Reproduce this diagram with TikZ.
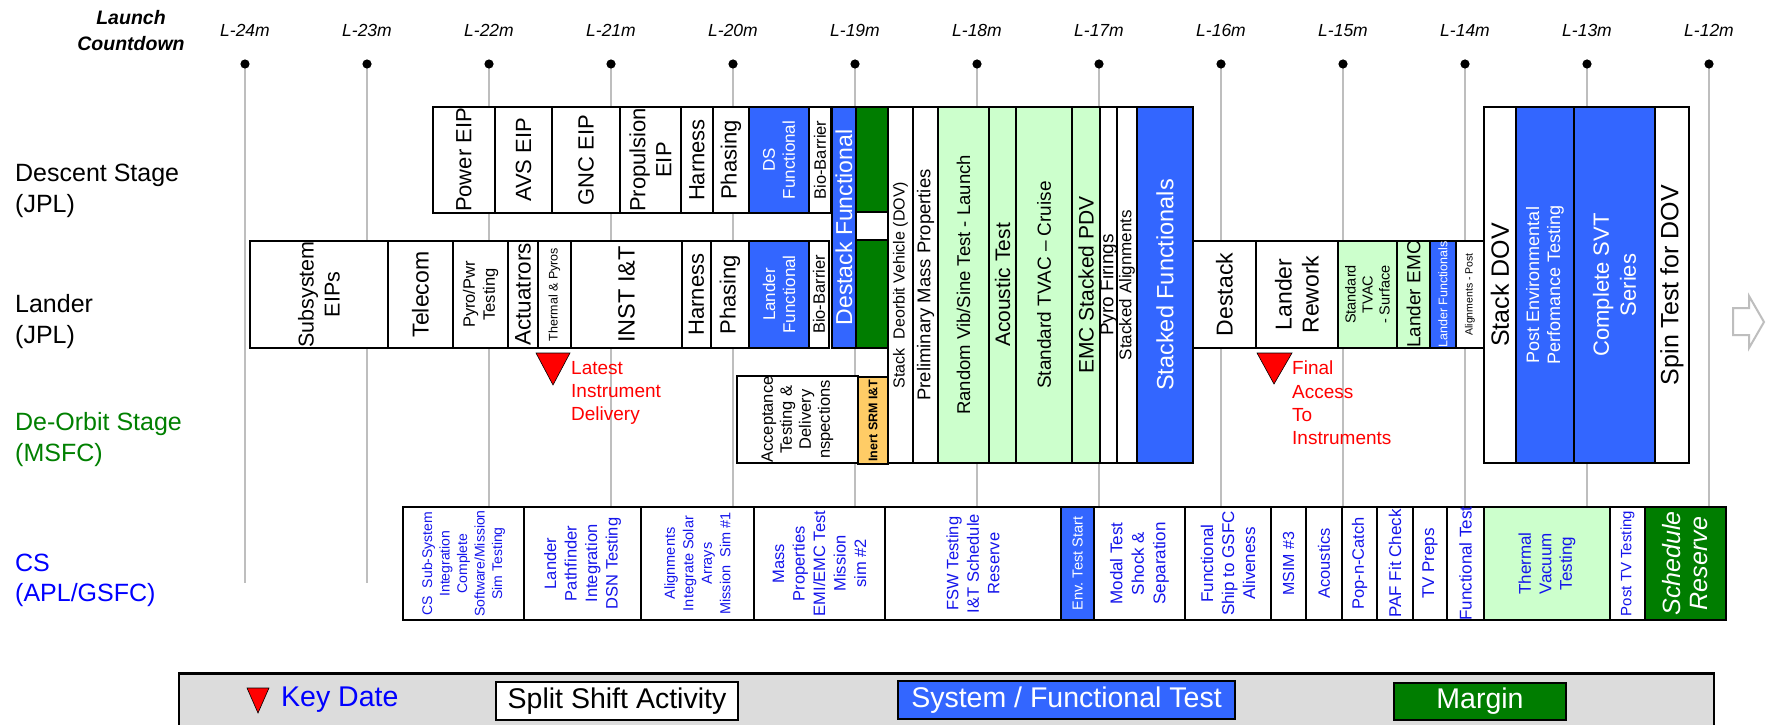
\documentclass[tikz,border=0pt]{standalone}
\usepackage{fontspec}
\setmainfont{Liberation Sans}
\definecolor{fblue}{RGB}{51,102,255}
\definecolor{mgreen}{RGB}{0,125,0}
\definecolor{lgreen}{RGB}{204,255,204}
\definecolor{orng}{RGB}{255,204,102}
\definecolor{tgray}{RGB}{190,190,190}
\definecolor{lgray}{RGB}{220,220,220}
\definecolor{csblue}{RGB}{20,20,235}
\definecolor{lblgreen}{RGB}{0,128,0}
\definecolor{kred}{RGB}{255,0,0}
\newcommand\fsz[2]{\fontsize{#1pt}{#2pt}\selectfont}
\pgfdeclarelayer{fg}
\pgfsetlayers{main,fg}
\tikzset{
  bx/.style={draw=black, line width=2.2pt},
  vt/.style={rotate=90, inner sep=0pt, align=center},
  tick/.style={tgray, line width=2pt},
  ticklbl/.style={font=\fsz{17.5}{20}\itshape, inner sep=0pt, anchor=base},
  rowlbl/.style={anchor=north west, align=left, inner sep=0pt, font=\fsz{25}{30.5}},
  keytxt/.style={anchor=north west, align=left, inner sep=0pt, text=kred, font=\fsz{19}{23.3}},
  keytri/.style={fill=kred, draw=black, line width=0.6pt},
  cst/.style={text=csblue, font=\fsz{16.5}{20.5}},
}
% box: name, fill, x1, x2, y1, y2, text options, text
\newcommand\tb[8]{%
  \draw[bx,fill=#2] (#3,#5) rectangle (#4,#6);
  \begin{pgfonlayer}{fg}
  \node[vt,#7] (#1) at ({(#3+#4)/2},{(#5+#6)/2}) {#8};
  \end{pgfonlayer}}
\begin{document}
\begin{tikzpicture}[x=1pt,y=-1pt]
\useasboundingbox (0,0) rectangle (1767,725);
\fill[white] (0,0) rectangle (1767,725);

% header
\node[align=center, inner sep=0pt, anchor=north, font=\fsz{19.5}{25.5}\bfseries\itshape] (hdr) at (131,10.5) {Launch\\Countdown};

% timeline ticks
\foreach \m [count=\i from 0] in {24,23,22,21,20,19,18,17,16,15,14,13,12} {
  \pgfmathsetmacro{\xx}{245+122*\i}
  \draw[tick] (\xx,64) -- (\xx,583);
  \fill[black] (\xx,64) circle (4.6);
  \node[ticklbl] (t\m) at (\xx,37) {L-\m m};
}

% row labels
\node[rowlbl] (ds) at (15,164) {Descent Stage\\(JPL)};
\node[rowlbl] (ld) at (15,294.5) {Lander\\(JPL)};
\node[rowlbl, text=lblgreen] (dos) at (15,412.5) {De-Orbit Stage\\(MSFC)};
\node[rowlbl, text=blue] (cs) at (15,553.5) {CS\\(APL/GSFC)};

% Descent stage row
\tb{b1}{white}{433}{495}{107}{213}{font=\fsz{22}{25}}{Power EIP}
\tb{b2}{white}{495}{552}{107}{213}{font=\fsz{22}{25}}{AVS EIP}
\tb{b3}{white}{552}{620}{107}{213}{font=\fsz{22}{25}}{GNC EIP}
\tb{b4}{white}{620}{681}{107}{213}{font=\fsz{22}{26}}{Propulsion\\EIP}
\tb{b5}{white}{681}{713}{107}{213}{font=\fsz{22}{25}}{Harness}
\tb{b6}{white}{713}{749}{107}{213}{font=\fsz{22}{25}}{Phasing}
\tb{b7}{fblue}{749}{809}{107}{213}{font=\fsz{17}{20}, text=white}{DS\\Functional}
\tb{b8}{white}{809}{831}{107}{213}{font=\fsz{16.5}{19}}{Bio-Barrier}

% Lander row
\tb{c1}{white}{250}{388}{241}{348}{font=\fsz{21.5}{26}}{Subsystem\\EIPs}
\tb{c2}{white}{388}{453}{241}{348}{font=\fsz{23}{26}}{Telecom}
\tb{c3}{white}{453}{508}{241}{348}{font=\fsz{16.5}{20}}{Pyro/Pwr\\Testing}
\tb{c4}{white}{508}{538}{241}{348}{font=\fsz{22.5}{26}}{Actuatrors}
\tb{c5}{white}{538}{571}{241}{348}{font=\fsz{12.5}{15}}{Thermal \& Pyros}
\tb{c6}{white}{571}{682}{241}{348}{font=\fsz{23.5}{26}}{INST I\&T}
\tb{c7}{white}{682}{711}{241}{348}{font=\fsz{22}{25}}{Harness}
\tb{c8}{white}{711}{749}{241}{348}{font=\fsz{22}{25}}{Phasing}
\tb{c9}{fblue}{749}{809}{241}{348}{font=\fsz{17}{20}, text=white}{Lander\\Functional}
\tb{c10}{white}{809}{829}{241}{348}{font=\fsz{16.5}{19}}{Bio-Barrier}

% spanning DS+Lander
\tb{d1}{fblue}{832}{856}{107}{348}{font=\fsz{23}{26}, text=white}{Destack Functional}
\tb{g1}{mgreen}{856}{888}{107}{212}{}{}
\tb{g2}{white}{856}{888}{212}{240}{}{}
\tb{g3}{mgreen}{856}{888}{240}{348}{}{}

% De-orbit
\tb{e1}{white}{737}{858}{376}{463}{font=\fsz{16.5}{19}}{Acceptance\\Testing \&\\Delivery\\nspections}
\tb{e2}{orng}{858}{888}{377}{464}{font=\fsz{12.5}{15}\bfseries}{Inert SRM I\&T}

% spanning all stages
\tb{f1}{white}{888}{913}{107}{463}{font=\fsz{16}{19}}{Stack\ \ Deorbit Vehicle (DOV)}
\tb{f2}{white}{913}{938}{107}{463}{font=\fsz{18.5}{21}}{Preliminary Mass Properties}
\tb{f3}{lgreen}{938}{989}{107}{463}{font=\fsz{18.5}{21}}{Random Vib/Sine Test - Launch}
\tb{f4}{lgreen}{989}{1016}{107}{463}{font=\fsz{21}{24}}{Acoustic Test}
\tb{f5}{lgreen}{1016}{1072}{107}{463}{font=\fsz{19}{22}}{Standard TVAC -- Cruise}
\tb{f6}{lgreen}{1072}{1100}{107}{463}{font=\fsz{21}{24}}{EMC Stacked PDV}
\tb{f7}{white}{1100}{1117}{107}{463}{font=\fsz{19}{22}}{Pyro Firings}
\tb{f8}{white}{1117}{1137}{107}{463}{font=\fsz{17}{20}}{Stacked Alignments}
\tb{f9}{fblue}{1137}{1193}{107}{463}{font=\fsz{23.5}{26}, text=white}{Stacked Functionals}

% Lander row continued
\tb{h1}{white}{1193}{1256}{241}{348}{font=\fsz{23}{26}}{Destack}
\tb{h2}{white}{1256}{1338}{241}{348}{font=\fsz{23}{27}}{Lander\\Rework}
\tb{h3}{lgreen}{1338}{1397}{241}{348}{font=\fsz{14.5}{17}}{Standard\\TVAC\\- Surface}
\tb{h4}{lgreen}{1397}{1430}{241}{348}{font=\fsz{19}{22}}{Lander EMC}
\tb{h5}{fblue}{1430}{1456}{241}{348}{font=\fsz{12.5}{15}, text=white}{Lander Functionals}
\tb{h6}{white}{1456}{1484}{241}{348}{font=\fsz{10.5}{13}}{Alignments - Post}

% spanning right
\tb{k1}{white}{1484}{1516}{107}{463}{font=\fsz{25}{28}}{Stack DOV}
\tb{k2}{fblue}{1516}{1574}{107}{463}{font=\fsz{18}{21}, text=white}{Post Environmental\\Perfomance Testing}
\tb{k3}{fblue}{1574}{1655}{107}{463}{font=\fsz{22}{27}, text=white}{Complete SVT\\Series}
\tb{k4}{white}{1655}{1689}{107}{463}{font=\fsz{25}{28}}{Spin Test for DOV}

% continuation arrow
\draw[tgray, line width=2pt, fill=white, line join=miter] (1733,308) -- (1749,308) -- (1749,296) -- (1764,322) -- (1749,348) -- (1749,335) -- (1733,335) -- cycle;

% key dates
\draw[keytri] (536,353) -- (570,353) -- (553,385) -- cycle;
\node[keytxt] (kd1) at (571,361) {Latest\\Instrument\\Delivery};
\draw[keytri] (1257,353) -- (1292,353) -- (1274,384) -- cycle;
\node[keytxt] (kd2) at (1292,361) {Final\\Access\\To\\Instruments};

% CS row
\tb{s1}{white}{403}{524}{507}{620}{cst, font=\fsz{14}{17.5}}{CS\ \ Sub-System\\Integration\\Complete\\Software/Mission\\Sim Testing}
\tb{s2}{white}{524}{641}{507}{620}{cst}{Lander\\Pathfinder\\Integration\\DSN Testing}
\tb{s3}{white}{641}{754}{507}{620}{cst, font=\fsz{14.5}{18.5}}{Alignments\\Integrate Solar\\Arrays\\Mission\ \ Sim \#1}
\tb{s4}{white}{754}{885}{507}{620}{cst}{Mass\\Properties\\EMI/EMC Test\\Mission\\sim \#2}
\tb{s5}{white}{885}{1061}{507}{620}{cst}{FSW Testing\\I\&T Schedule\\Reserve}
\tb{s6}{fblue}{1061}{1094}{507}{620}{font=\fsz{14.5}{17}, text=white}{Env.\ Test Start}
\tb{s7}{white}{1094}{1185}{507}{620}{cst, font=\fsz{17}{21.5}}{Modal Test\\Shock \&\\Separation}
\tb{s8}{white}{1185}{1271}{507}{620}{cst, font=\fsz{17}{21}}{Functional\\Ship to GSFC\\Aliveness}
\tb{s9}{white}{1271}{1306}{507}{620}{cst, font=\fsz{16}{19}}{MSIM \#3}
\tb{s10}{white}{1306}{1342}{507}{620}{cst}{Acoustics}
\tb{s11}{white}{1342}{1377}{507}{620}{cst}{Pop-n-Catch}
\tb{s12}{white}{1377}{1413}{507}{620}{cst, font=\fsz{17}{20}}{PAF Fit Check}
\tb{s13}{white}{1413}{1447}{507}{620}{cst, font=\fsz{17}{20}}{TV Preps}
\tb{s14}{white}{1447}{1484}{507}{620}{cst, font=\fsz{17}{20}}{Functional Test}
\tb{s15}{lgreen}{1484}{1610}{507}{620}{cst, font=\fsz{17}{20.5}}{Thermal\\Vacuum\\Testing}
\tb{s16}{white}{1610}{1645}{507}{620}{cst, font=\fsz{15}{18}}{Post TV Testing}
\tb{s17}{mgreen}{1645}{1726}{507}{620}{font=\fsz{25}{27}\itshape, text=white}{Schedule\\Reserve}

% legend
\draw[fill=lgray, draw=black, line width=2pt] (179,673) rectangle (1714,735);
\draw[black, line width=3pt] (179,673) -- (1714,673);
\draw[keytri] (247,688) -- (269,688) -- (258,713) -- cycle;
\node[anchor=west, inner sep=0pt, text=blue, font=\fsz{28.5}{30}] (lk) at (281,700) {Key Date};
\node[draw=black, line width=2pt, fill=white, minimum width=242pt, minimum height=38pt, inner sep=0pt, font=\fsz{28.5}{30}] (ls) at (617,701) {Split Shift Activity};
\node[draw=black, line width=2pt, fill=fblue, text=white, minimum width=337pt, minimum height=38pt, inner sep=0pt, font=\fsz{28.5}{30}] (lf) at (1066.5,700) {System / Functional Test};
\node[draw=black, line width=2pt, fill=mgreen, text=white, minimum width=172pt, minimum height=37pt, inner sep=0pt, font=\fsz{28.5}{30}] (lm) at (1480,701.5) {Margin};
\end{tikzpicture}
\end{document}
